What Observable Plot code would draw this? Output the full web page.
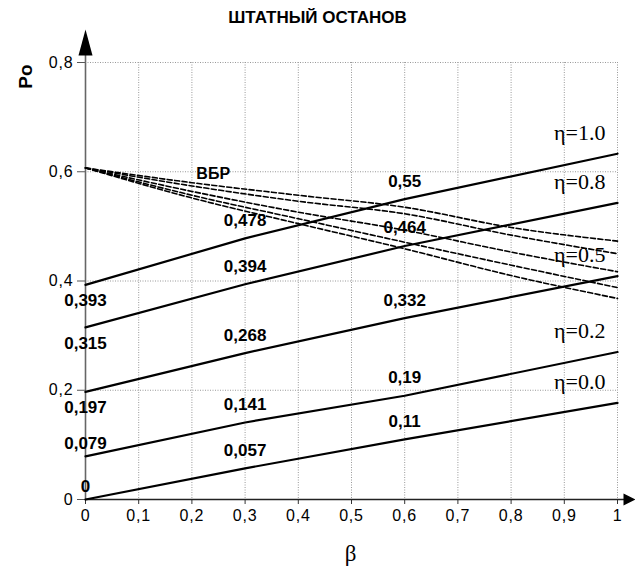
<!DOCTYPE html>
<html><head><meta charset="utf-8">
<script src="https://cdn.jsdelivr.net/npm/d3@7"></script>
<script src="https://cdn.jsdelivr.net/npm/@observablehq/plot@0.6"></script>
<style>
body{margin:0;background:#fff;}
svg{display:block;}
g[aria-label="value-labels"] text, g[aria-label="value-labels-up"] text, g[aria-label="value-labels-mid"] text {letter-spacing:1.3px;}
g[aria-label="x-axis tick label"] text, g[aria-label="y-axis tick label"] text {letter-spacing:0.8px;}
g[aria-label="eta-labels"] text {letter-spacing:1.6px;}
</style>
</head><body><div id="chart"></div>
<script>
// ---- data ----
const title = "ШТАТНЫЙ ОСТАНОВ";
const xLabel = "β";
const yLabel = "Po";
const vbrLabel = "ВБР";

const beta = [0, 0.3, 0.6, 1];
const etaNames = ["η=1.0", "η=0.8", "η=0.5", "η=0.2", "η=0.0"];
const po_eta10 = [0.393, 0.478, 0.55, 0.633];
const po_eta08 = [0.315, 0.394, 0.464, 0.543];
const po_eta05 = [0.197, 0.268, 0.332, 0.409];
const po_eta02 = [0.079, 0.141, 0.19, 0.270];
const po_eta00 = [0, 0.057, 0.11, 0.177];

const betaVbr = [0, 0.2, 0.4, 0.6, 0.8, 1];
const vbr1 = [0.607, 0.580, 0.557, 0.535, 0.498, 0.473];
const vbr2 = [0.607, 0.574, 0.546, 0.523, 0.484, 0.450];
const vbr3 = [0.607, 0.564, 0.526, 0.493, 0.453, 0.417];
const vbr4 = [0.607, 0.557, 0.514, 0.471, 0.429, 0.388];
const vbr5 = [0.607, 0.552, 0.505, 0.459, 0.410, 0.368];

const xTicks = [0, 0.1, 0.2, 0.3, 0.4, 0.5, 0.6, 0.7, 0.8, 0.9, 1];
const xTickLabels = ["0", "0,1", "0,2", "0,3", "0,4", "0,5", "0,6", "0,7", "0,8", "0,9", "1"];
const yTicks = [0, 0.2, 0.4, 0.6, 0.8];
const yTickLabels = ["0", "0,2", "0,4", "0,6", "0,8"];

// ---- build tables ----
const solidSeries = [po_eta10, po_eta08, po_eta05, po_eta02, po_eta00];
const solid = solidSeries.flatMap((vals, k) => vals.map((v, i) => ({eta: etaNames[k], k, beta: beta[i], po: v})));
const dashedSeries = [vbr1, vbr2, vbr3, vbr4, vbr5];
const dashed = dashedSeries.flatMap((vals, k) => vals.map((v, i) => ({s: k, beta: betaVbr[i], po: v})));
const fmt = v => String(v).replace(".", ",");
const labelled = solid.filter(d => d.beta < 1);
const leftBelow = labelled.filter(d => d.beta === 0 && d.k <= 2);
const leftAbove = labelled.filter(d => d.beta === 0 && d.k > 2);
const mid = labelled.filter(d => d.beta > 0);
const ends = solid.filter(d => d.beta === 1);

const sans = "'Liberation Sans', Arial, Helvetica, sans-serif";
const serif = "'Liberation Serif', 'Times New Roman', serif";

const upArrow = {draw(ctx) { ctx.moveTo(-7, 0); ctx.lineTo(7, 0); ctx.lineTo(0, -26); ctx.closePath(); }};
const rightArrow = {draw(ctx) { ctx.moveTo(0, -6); ctx.lineTo(0, 6); ctx.lineTo(12, 0); ctx.closePath(); }};

const chart = Plot.plot({
  width: 635,
  height: 566,
  marginLeft: 85,
  marginRight: 18,
  marginTop: 62,
  marginBottom: 67,
  style: {fontFamily: sans, fontSize: "16px", background: "#fff", color: "#000"},
  x: {domain: [0, 1]},
  y: {domain: [0, 0.8]},
  marks: [
    Plot.gridX(xTicks.slice(1), {stroke: "#999", strokeOpacity: 1, strokeDasharray: "1,1.5"}),
    Plot.gridY(yTicks.slice(1), {stroke: "#999", strokeOpacity: 1, strokeDasharray: "1,1.5"}),
    Plot.axisX(xTicks, {tickFormat: (d, i) => xTickLabels[i], tickSize: 5, tickPadding: 5, label: null, fontSize: 16, stroke: "#333"}),
    Plot.axisY(yTicks, {tickFormat: (d, i) => yTickLabels[i], tickSize: 8, tickPadding: 4, label: null, fontSize: 16, stroke: "#555"}),
    Plot.ruleX([0], {stroke: "#666", strokeWidth: 1.6, insetTop: -7}),
    Plot.ruleY([0], {stroke: "#222", strokeWidth: 1.4, insetRight: -8}),
    Plot.dot([0], {frameAnchor: "top-left", dy: -7, symbol: upArrow, fill: "#000", stroke: "none"}),
    Plot.dot([0], {frameAnchor: "bottom-right", dx: 6, symbol: rightArrow, fill: "#000", stroke: "none"}),
    Plot.line(dashed, {x: "beta", y: "po", z: "s", stroke: "#000", strokeWidth: 1.6, strokeDasharray: "5,2.5", curve: "monotone-x"}),
    Plot.line(solid, {x: "beta", y: "po", z: "eta", stroke: "#000", strokeWidth: 2.2}),
    Plot.text(leftBelow, {x: "beta", y: "po", text: d => fmt(d.po), dy: 16, fontWeight: "bold", fontSize: 17, ariaLabel: "value-labels"}),
    Plot.text(leftAbove, {x: "beta", y: "po", text: d => fmt(d.po), dy: -13, fontWeight: "bold", fontSize: 17, ariaLabel: "value-labels-up"}),
    Plot.text(mid, {x: "beta", y: "po", text: d => fmt(d.po), dy: -18, fontWeight: "bold", fontSize: 17, ariaLabel: "value-labels-mid"}),
    Plot.text(ends, {x: "beta", y: "po", text: "eta", dy: -21, dx: -12, textAnchor: "end", fontFamily: serif, fontSize: 22, fill: "#000", ariaLabel: "eta-labels"}),
    Plot.text([vbrLabel], {x: 0.24, y: 0.597, text: d => d, fontSize: 16, fontWeight: "bold"}),
    Plot.text([title], {frameAnchor: "top", lineAnchor: "middle", dx: -34, dy: -45, text: d => d, fontWeight: "bold", fontSize: 17}),
    Plot.text([yLabel], {frameAnchor: "top-left", lineAnchor: "middle", dx: -60, dy: 14, rotate: -90, textAnchor: "middle", text: d => d, fontWeight: "bold", fontSize: 19}),
    Plot.text([xLabel], {frameAnchor: "bottom", lineAnchor: "middle", dx: -1, dy: 54, text: d => d, fontFamily: serif, fontSize: 23})
  ]
});
document.getElementById("chart").appendChild(chart);
</script>
</body></html>
